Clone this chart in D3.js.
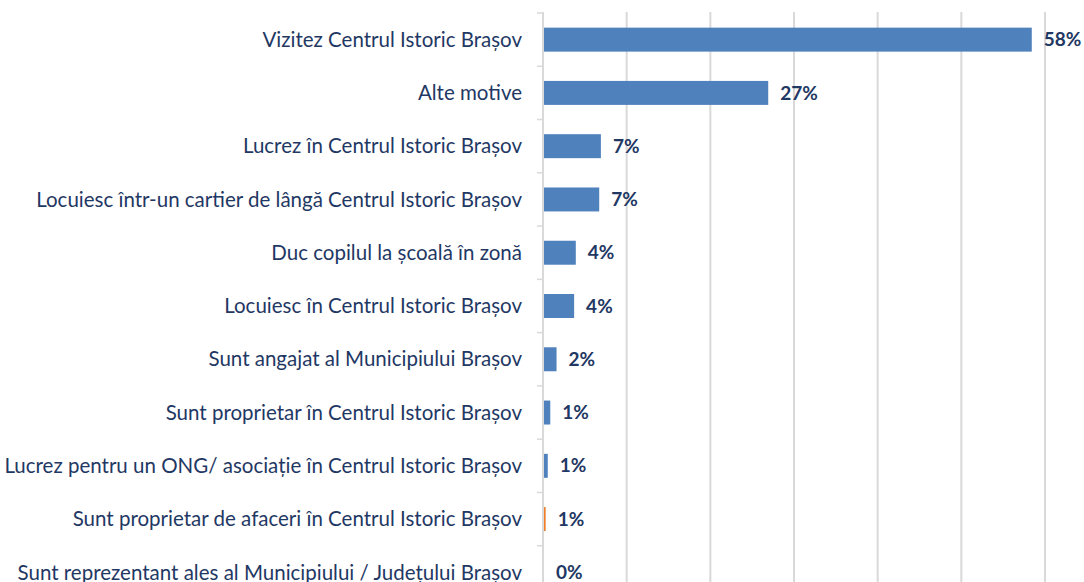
<!DOCTYPE html>
<html>
<head>
<meta charset="utf-8">
<script src="https://cdn.jsdelivr.net/npm/d3@7"></script>
<style>
    body { margin: 0; background: #fff; }
    .catlabel { font-family: Lato, sans-serif; font-size: 20.5px; fill: #1f3864; }
    .vallabel { font-family: Lato, sans-serif; font-size: 19px; font-weight: bold; fill: #1f3864; }
</style>
</head>
<body>
<div id="chart"></div>
<script>
// categories top to bottom
var categories = [
    "Vizitez Centrul Istoric Brașov",
    "Alte motive",
    "Lucrez în Centrul Istoric Brașov",
    "Locuiesc într-un cartier de lângă Centrul Istoric Brașov",
    "Duc copilul la școală în zonă",
    "Locuiesc în Centrul Istoric Brașov",
    "Sunt angajat al Municipiului Brașov",
    "Sunt proprietar în Centrul Istoric Brașov",
    "Lucrez pentru un ONG/ asociație în Centrul Istoric Brașov",
    "Sunt proprietar de afaceri în Centrul Istoric Brașov",
    "Sunt reprezentant ales al Municipiului / Județului Brașov"
];
// percent values
var values = [58.3, 26.8, 6.8, 6.6, 3.8, 3.6, 1.5, 0.75, 0.45, 0.2, 0];
// labels as printed on the chart
var valueLabels = ["58%", "27%", "7%", "7%", "4%", "4%", "2%", "1%", "1%", "1%", "0%"];
// the one highlighted bar
var highlight = [false, false, false, false, false, false, false, false, false, true, false];
var xTicks = [0, 10, 20, 30, 40, 50, 60];

var width = 1084, height = 582;
var blue = "#4f81bd", orange = "#f07f2a", grid = "#d9d9d9";

var data = categories.map(function (c, i) {
    return { cat: c, value: values[i], label: valueLabels[i], hl: highlight[i] };
});

var svg = d3.select("#chart")
    .append("svg")
    .attr("width", width)
    .attr("height", height);

var x = d3.scaleLinear()
    .domain([0, 60])
    .range([543, 1045]);

var y = d3.scaleBand()
    .domain(categories)
    .range([13, 599])
    .paddingInner(0.55)
    .paddingOuter(0.275);

// vertical gridlines
svg.append("g")
    .selectAll("line")
    .data(xTicks)
    .enter()
    .append("line")
    .attr("x1", function (d) { return x(d); })
    .attr("x2", function (d) { return x(d); })
    .attr("y1", 12)
    .attr("y2", height)
    .attr("stroke", grid)
    .attr("stroke-width", 2);

// small tick marks on category boundaries
var bounds = d3.range(categories.length + 1).map(function (i) { return 13 + i * y.step(); });
svg.append("g")
    .selectAll("line")
    .data(bounds)
    .enter()
    .append("line")
    .attr("x1", x(0) - 6)
    .attr("x2", x(0))
    .attr("y1", function (d) { return d; })
    .attr("y2", function (d) { return d; })
    .attr("stroke", grid)
    .attr("stroke-width", 1.5);

// bars
svg.append("g")
    .selectAll("rect")
    .data(data)
    .enter()
    .append("rect")
    .attr("x", x(0) + 1)
    .attr("y", function (d) { return y(d.cat); })
    .attr("width", function (d) { return Math.max(0, x(d.value) - x(0)); })
    .attr("height", y.bandwidth())
    .attr("fill", function (d) { return d.hl ? orange : blue; });

// category labels
svg.append("g")
    .selectAll("text")
    .data(data)
    .enter()
    .append("text")
    .attr("class", "catlabel")
    .attr("x", 522)
    .attr("y", function (d) { return y(d.cat) + y.bandwidth() / 2; })
    .attr("dy", "0.35em")
    .attr("text-anchor", "end")
    .text(function (d) { return d.cat; });

// value labels
svg.append("g")
    .selectAll("text")
    .data(data)
    .enter()
    .append("text")
    .attr("class", "vallabel")
    .attr("x", function (d) { return x(d.value) + 13; })
    .attr("y", function (d) { return y(d.cat) + y.bandwidth() / 2; })
    .attr("dy", "0.35em")
    .text(function (d) { return d.label; });
</script>
</body>
</html>
